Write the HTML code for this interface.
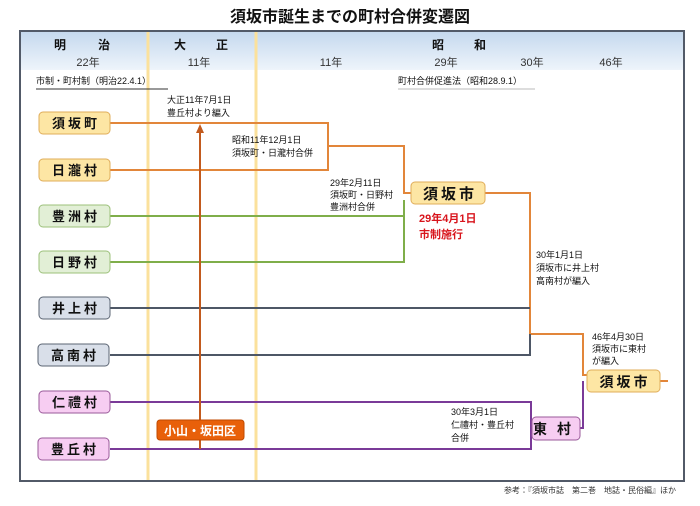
<!DOCTYPE html>
<html><head><meta charset="utf-8"><style>
body{margin:0;background:#fff;}
svg{display:block;font-family:"Liberation Sans","Noto Sans CJK JP",sans-serif;}
.s{font-size:9px;fill:#111;}
.n{font-size:13px;fill:#111;letter-spacing:3px;font-weight:bold;}
</style></head><body>
<svg width="700" height="506" viewBox="0 0 700 506">
<defs>
<linearGradient id="hg" x1="0" y1="0" x2="0" y2="1"><stop offset="0" stop-color="#c5d9ee"/><stop offset="1" stop-color="#eef4fb"/></linearGradient>
</defs>
<text x="350" y="22" text-anchor="middle" font-size="16" font-weight="bold" fill="#111">須坂市誕生までの町村合併変遷図</text>
<rect x="20" y="31" width="664" height="450" fill="#fff" stroke="#525a68" stroke-width="2"/>
<rect x="21" y="32" width="662" height="38" fill="url(#hg)"/>
<line x1="148" y1="32" x2="148" y2="480" stroke="#fbe19c" stroke-width="3"/>
<line x1="256" y1="32" x2="256" y2="480" stroke="#fbe19c" stroke-width="3"/>
<g font-size="12" font-weight="bold" fill="#111" text-anchor="middle">
<text x="60" y="49">明</text><text x="104" y="49">治</text>
<text x="180" y="49">大</text><text x="222" y="49">正</text>
<text x="438" y="49">昭</text><text x="480" y="49">和</text>
</g>
<g font-size="11" fill="#333" text-anchor="middle">
<text x="88" y="66">22年</text><text x="199" y="66">11年</text><text x="331" y="66">11年</text>
<text x="446" y="66">29年</text><text x="532" y="66">30年</text><text x="611" y="66">46年</text>
</g>
<text x="36" y="84" font-size="9" fill="#111">市制・町村制（明治22.4.1）</text>
<text x="398" y="84" font-size="9" fill="#111">町村合併促進法（昭和28.9.1）</text>
<line x1="36" y1="89" x2="168" y2="89" stroke="#333" stroke-width="1"/>
<line x1="398" y1="89" x2="535" y2="89" stroke="#bbb" stroke-width="1"/>
<g fill="none" stroke-width="2">
<polyline points="110,123 328,123 328,170 110,170" stroke="#e2863a"/>
<polyline points="328,146 404,146 404,193 411,193" stroke="#e2863a"/>
<polyline points="110,216 404,216" stroke="#7fae4a"/>
<polyline points="110,262 404,262 404,200" stroke="#7fae4a"/>
<polyline points="485,193 530,193 530,334 583,334 583,375 587,375" stroke="#e2863a"/>
<line x1="660" y1="381" x2="668" y2="381" stroke="#e2863a"/>
<polyline points="110,308 530,308" stroke="#4e5766"/>
<polyline points="110,355 530,355 530,334" stroke="#4e5766"/>
<polyline points="110,402 531,402 531,449 110,449" stroke="#7a3a98"/>
<polyline points="580,428 583,428 583,381" stroke="#7a3a98"/>
<line x1="200" y1="449" x2="200" y2="131" stroke="#c25a1e"/>
</g>
<polygon points="200,124 196,133 204,133" fill="#c25a1e"/>
<g stroke-width="1">
<rect x="39" y="112" width="71" height="22" rx="4" fill="#fde6a4" stroke="#e0ad5a"/>
<rect x="39" y="159" width="71" height="22" rx="4" fill="#fde6a4" stroke="#e0ad5a"/>
<rect x="39" y="205" width="71" height="22" rx="4" fill="#e2efd6" stroke="#9cc07a"/>
<rect x="39" y="251" width="71" height="22" rx="4" fill="#e2efd6" stroke="#9cc07a"/>
<rect x="39" y="297" width="71" height="22" rx="4" fill="#d9dfe9" stroke="#5b6473"/>
<rect x="38" y="344" width="71" height="22" rx="4" fill="#d9dfe9" stroke="#5b6473"/>
<rect x="39" y="391" width="71" height="22" rx="4" fill="#f7cdf2" stroke="#9a5a9a"/>
<rect x="38" y="438" width="71" height="22" rx="4" fill="#f7cdf2" stroke="#9a5a9a"/>
<rect x="411" y="182" width="74" height="22" rx="4" fill="#fde6a4" stroke="#e0ad5a"/>
<rect x="587" y="370" width="73" height="22" rx="4" fill="#fde6a4" stroke="#e0ad5a"/>
<rect x="532" y="417" width="48" height="23" rx="4" fill="#f7cdf2" stroke="#9a5a9a"/>
<rect x="157" y="420" width="87" height="20" rx="3" fill="#e8600a" stroke="#c04a00"/>
</g>
<g class="n" text-anchor="middle">
<text x="76" y="128">須坂町</text><text x="76" y="175">日瀧村</text>
<text x="76" y="221">豊洲村</text><text x="76" y="267">日野村</text>
<text x="76" y="313">井上村</text><text x="75" y="360">高南村</text>
<text x="76" y="407">仁禮村</text><text x="75" y="454">豊丘村</text>
<text x="450" y="199" font-size="15">須坂市</text>
<text x="625" y="387" font-size="14">須坂市</text>
<text x="557" y="434" font-size="14" letter-spacing="10">東村</text>
</g>
<text x="200" y="435" text-anchor="middle" font-size="12" font-weight="bold" fill="#fff">小山・坂田区</text>
<text x="419" y="222" font-size="11" font-weight="bold" fill="#d8141c">29年4月1日</text>
<text x="419" y="238" font-size="11" font-weight="bold" fill="#d8141c">市制施行</text>
<g class="s">
<text x="167" y="103">大正11年7月1日</text><text x="167" y="116">豊丘村より編入</text>
<text x="232" y="143">昭和11年12月1日</text><text x="232" y="156">須坂町・日瀧村合併</text>
<text x="330" y="186">29年2月11日</text><text x="330" y="198">須坂町・日野村</text><text x="330" y="210">豊洲村合併</text>
<text x="536" y="258">30年1月1日</text><text x="536" y="271">須坂市に井上村</text><text x="536" y="284">高南村が編入</text>
<text x="592" y="340">46年4月30日</text><text x="592" y="352">須坂市に東村</text><text x="592" y="364">が編入</text>
<text x="451" y="415">30年3月1日</text><text x="451" y="428">仁禮村・豊丘村</text><text x="451" y="441">合併</text>
</g>
<text x="676" y="493" text-anchor="end" font-size="8" fill="#333">参考：『須坂市誌　第二巻　地誌・民俗編』ほか</text>
</svg>
</body></html>
